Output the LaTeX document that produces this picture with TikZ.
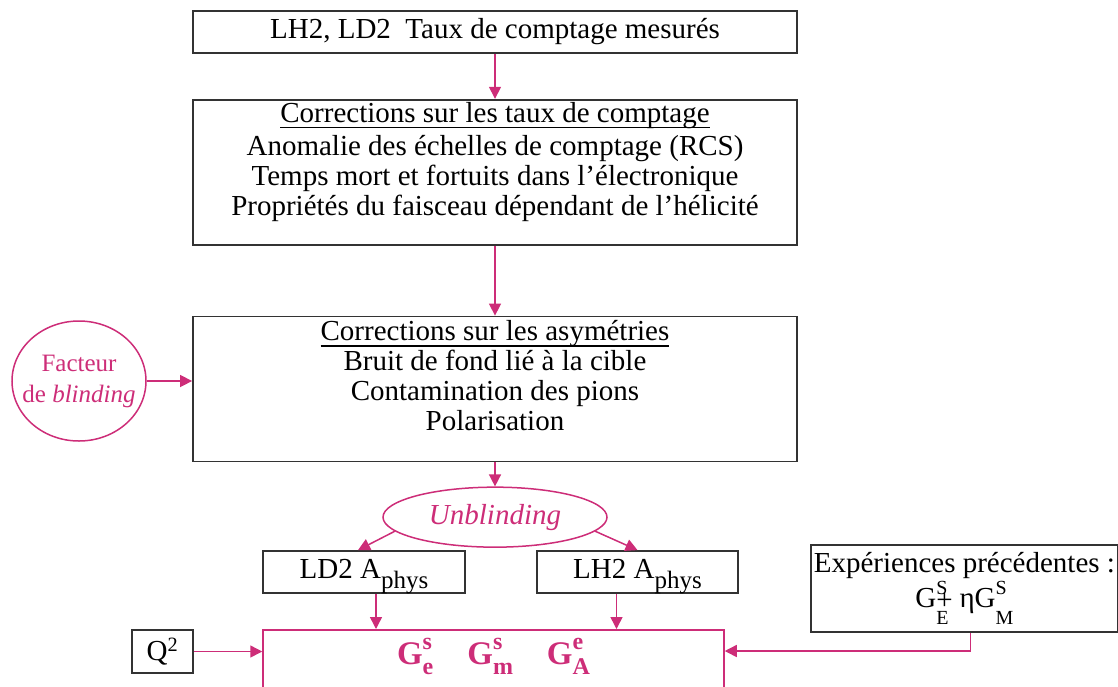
\documentclass[tikz,border=0pt]{standalone}
\usepackage{fontspec}
\setmainfont{Liberation Serif}
\usetikzlibrary{shapes.geometric,arrows.meta,positioning}
\definecolor{rose}{RGB}{205,45,120}
\definecolor{cadre}{RGB}{51,51,51}
% soulignement epais
\newcommand{\souligne}[1]{\begingroup\setbox0\hbox{#1}\rlap{\rule[-6pt]{\wd0}{1.5pt}}\box0\endgroup}
% exposant et indice superposes : {haut}{bas}{montee}{descente}{taille}
\newcommand{\ind}[5]{\rlap{\raisebox{#3}[0pt][0pt]{\fontsize{#5}{#5}\selectfont #1}}\raisebox{#4}[0pt]{\fontsize{#5}{#5}\selectfont #2}}

\begin{document}
\begin{tikzpicture}[
    x=1pt, y=-1pt,
    font=\fontsize{29}{30}\selectfont,
    node distance=45pt,
    etape/.style={draw=cadre, line width=1.8pt, minimum width=604pt, align=center, inner sep=0pt},
    petit/.style={draw=cadre, line width=1.8pt, minimum height=42pt, inner sep=0pt, align=center},
    bulle/.style={draw=rose, ellipse, line width=1.5pt, text=rose, inner sep=0pt, align=center},
    >={Triangle[length=12pt,width=12pt]},
    fleche/.style={->, draw=rose, line width=1.5pt}
]

\useasboundingbox (0,0) rectangle (1118,686);

\node (mesure) [etape, minimum height=42pt, anchor=north] at (495,10) {LH2, LD2\enspace Taux de comptage mesurés};
\node (taux)   [etape, minimum height=145pt, below=45pt of mesure] {\souligne{Corrections sur les taux de comptage}\\[3pt]
    Anomalie des échelles de comptage (RCS)\\
    Temps mort et fortuits dans l’électronique\\
    Propriétés du faisceau dépendant de l’hélicité\\[-3pt]\mbox{}};
\node (asym)   [etape, minimum height=145pt, below=70pt of taux] {\souligne{Corrections sur les asymétries}\\
    Bruit de fond lié à la cible\\
    Contamination des pions\\
    Polarisation\\[-3pt]\mbox{}};

\node (facteur) [bulle, minimum width=134pt, minimum height=120pt, inner xsep=-12pt,
    font=\fontsize{25}{31}\selectfont] at (79,381) {Facteur\\de \textit{blinding}};
\node (unblind) [bulle, minimum width=224pt, minimum height=60pt, below=24pt of asym] {\textit{Unblinding}};

\node (ld)  [petit, minimum width=202pt, text height=12pt, text depth=0pt] at (364,572)
    {LD2 A\raisebox{-10pt}[0pt][0pt]{\fontsize{25}{25}\selectfont phys}};
\node (lh)  [petit, minimum width=201pt, text height=12pt, text depth=0pt] at (637.5,572)
    {LH2 A\raisebox{-10pt}[0pt][0pt]{\fontsize{25}{25}\selectfont phys}};
\node (exp) [petit, minimum width=307pt, minimum height=87pt, anchor=north west] at (810,544) {Expériences précédentes :\\[5pt]
    G\rlap{\raisebox{-2pt}{+}}\ind{S}{E}{13pt}{-17pt}{20}\hspace{11pt}ηG\ind{S}{M}{13pt}{-17pt}{20}};
\node (q)   [petit, minimum width=61pt, minimum height=43pt] at (162.5,651.5) {Q\textsuperscript{2}};

\node (gbox) [draw=rose, line width=1.5pt, minimum width=461pt, minimum height=58pt, anchor=north, text=rose,
    font=\fontsize{33}{36}\selectfont\bfseries] at (493.5,629)
    {G\ind{s}{e}{15pt}{-10pt}{24}\hspace{34pt}G\ind{s}{m}{15pt}{-10pt}{24}\hspace{34pt}G\ind{e}{A}{15pt}{-10pt}{24}};

\draw[fleche] (mesure) -- (taux);
\draw[fleche] (taux) -- (asym);
\draw[fleche] (facteur.east) -- (facteur.east -| asym.west);
\draw[fleche] (asym) -- (unblind);

\draw[fleche] (unblind.188) -- ([xshift=-6pt]ld.north);
\draw[fleche] (unblind.-8) -- (lh.north);

\draw[fleche] ([xshift=12pt]ld.south) -- ([xshift=12pt]ld.south |- gbox.north);
\draw[fleche] ([xshift=-21pt]lh.south) -- ([xshift=-21pt]lh.south |- gbox.north);

\draw[fleche] (q) -- (q -| gbox.west);
\draw[fleche] ([xshift=6pt]exp.south) |- ([yshift=-22pt]gbox.north east);

\end{tikzpicture}
\end{document}
